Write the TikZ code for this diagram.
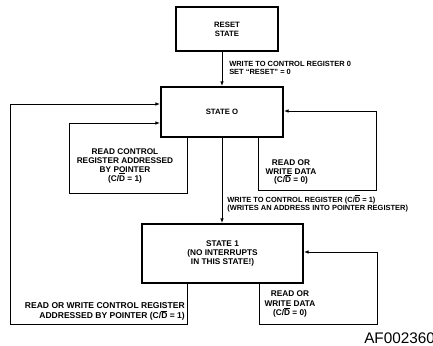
\documentclass[tikz,border=0pt]{standalone}
\usepackage{fontspec}
\setmainfont{Liberation Sans}
\usetikzlibrary{arrows.meta}
\newcommand{\Dbar}{$\overline{\hbox{D}}$}

\begin{document}
\begin{tikzpicture}[x=0.75pt, y=-0.75pt,
        statebox/.style={draw, line width=1.4pt, align=center, inner sep=0pt, font=\fontsize{5.8}{6.6}\selectfont\bfseries},
        lbl/.style={align=center, inner sep=0pt, font=\fontsize{6.2}{6.6}\selectfont\bfseries},
        edgelbl/.style={anchor=west, align=left, inner sep=0pt, font=\fontsize{5.6}{6.4}\selectfont\bfseries},
        conn/.style={line width=0.6pt, -{Latex[length=3.5pt,width=2.6pt]}}]
        \useasboundingbox (0,0) rectangle (433,346);

        \node[statebox, minimum width=76.5pt, minimum height=33pt] (reset) at (227,29) {RESET\\STATE};
        \node[statebox, minimum width=91.5pt, minimum height=37.5pt] (s0) at (222,112) {STATE O};
        \node[statebox, minimum width=120.75pt, minimum height=44.25pt, font=\fontsize{6.2}{6.6}\selectfont\bfseries] (s1) at (222.5,253.5) {STATE 1\\(NO INTERRUPTS\\IN THIS STATE!)};

        \draw[conn] (reset.south -| s0.north) -- (s0.north);
        \draw[conn] (s0.south) -- (s0.south |- s1.north);

        \draw[conn] (s1.south -| 187,0) |- (10,324) |- (s0.west |- 0,104);
        \draw[conn] (s0.south -| 187,0) |- (69,193) |- (s0.west |- 0,123);
        \draw[conn] (s0.south -| 258,0) |- (376,190) |- (s0.east |- 0,111);
        \draw[conn] (s1.south -| 259,0) |- (377,324) |- (s1.east |- 0,252);

        \node[edgelbl] (w0) at (229,68) {WRITE TO CONTROL REGISTER 0\\SET ``RESET'' = 0};
        \node[edgelbl] (w1) at (227,203.5) {WRITE TO CONTROL REGISTER (C/\Dbar{} = 1)\\(WRITES AN ADDRESS INTO POINTER REGISTER)};
        \node[lbl] (rc) at (125,166) {READ CONTROL\\REGISTER ADDRESSED\\BY POINTER\\(C/\Dbar{} = 1)};
        \node[lbl] (rw0) at (291,172) {READ OR\\WRITE DATA\\(C/\Dbar{} = 0)};
        \node[lbl, font=\fontsize{6.2}{7}\selectfont\bfseries] (rw1) at (290,304) {READ OR\\WRITE DATA\\(C/\Dbar{} = 0)};
        \node[lbl, anchor=east, align=right, font=\fontsize{6.4}{8}\selectfont\bfseries] (rwc) at (185,311.5) {READ OR WRITE CONTROL REGISTER\\ADDRESSED BY POINTER (C/\Dbar{} = 1)};

        \node[font=\fontsize{11.5}{12}\selectfont, anchor=base west, inner sep=0pt] (fig) at (364,344) {AF002360};
\end{tikzpicture}
\end{document}
